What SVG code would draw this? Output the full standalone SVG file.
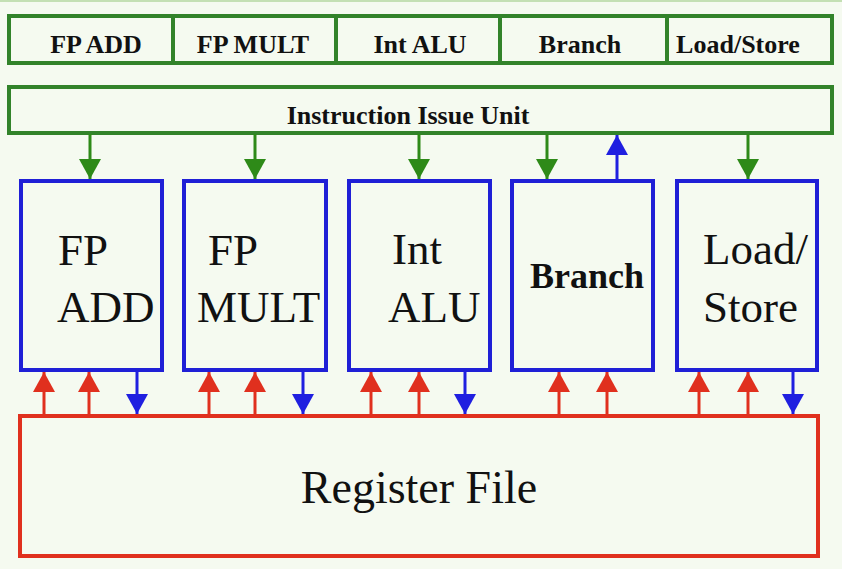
<svg xmlns="http://www.w3.org/2000/svg" width="842" height="569" viewBox="0 0 842 569">
  <style>
    .bg { fill: #f5faf0; }
    .gbox { fill: none; stroke: #32832a; stroke-width: 4; }
    .bbox { fill: none; stroke: #1f1fd6; stroke-width: 4; }
    .rbox { fill: none; stroke: #e0301e; stroke-width: 4; }
    .lbl { font-family: "Liberation Serif", "Times New Roman", serif; fill: #111; }
    .small { font-size: 26px; font-weight: bold; text-anchor: middle; }
    .big { font-size: 45px; }
    .g { stroke: #2e8a18; stroke-width: 3; fill: none; }
    .b { stroke: #1f1fe0; stroke-width: 3; fill: none; }
    .r { stroke: #e0301e; stroke-width: 3; fill: none; }
  </style>
  <defs>
    <marker id="ag" markerUnits="userSpaceOnUse" markerWidth="22" markerHeight="22" viewBox="0 0 22 22" refX="20" refY="11" orient="auto">
      <path d="M0,0 L20,11 L0,22 z" fill="#2e8a18"/>
    </marker>
    <marker id="ab" markerUnits="userSpaceOnUse" markerWidth="22" markerHeight="22" viewBox="0 0 22 22" refX="20" refY="11" orient="auto">
      <path d="M0,0 L20,11 L0,22 z" fill="#1f1fe0"/>
    </marker>
    <marker id="ar" markerUnits="userSpaceOnUse" markerWidth="22" markerHeight="22" viewBox="0 0 22 22" refX="20" refY="11" orient="auto">
      <path d="M0,0 L20,11 L0,22 z" fill="#e0301e"/>
    </marker>
  </defs>
  <rect class="bg" x="0" y="0" width="842" height="569"/>
  <line x1="0" y1="1" x2="842" y2="1" stroke="#c4e0b4" stroke-width="2"/>

  <g id="unit-table">
    <rect class="gbox" x="9" y="16" width="823" height="47"/>
    <line class="gbox" x1="173" y1="16" x2="173" y2="63"/>
    <line class="gbox" x1="336" y1="16" x2="336" y2="63"/>
    <line class="gbox" x1="500" y1="16" x2="500" y2="63"/>
    <line class="gbox" x1="667" y1="16" x2="667" y2="63"/>
    <text class="lbl small" x="96" y="53">FP ADD</text>
    <text class="lbl small" x="253" y="53">FP MULT</text>
    <text class="lbl small" x="420" y="53">Int ALU</text>
    <text class="lbl small" x="580" y="53">Branch</text>
    <text class="lbl small" x="738" y="53">Load/Store</text>
  </g>

  <g id="issue-unit">
    <rect class="gbox" x="9" y="87" width="823" height="46"/>
    <text class="lbl small" x="408" y="124" font-size="27">Instruction Issue Unit</text>
  </g>

  <g id="fp-add">
    <rect class="bbox" x="21" y="181" width="141" height="189"/>
    <text class="lbl big" x="58" y="265">FP</text>
    <text class="lbl big" x="57" y="322">ADD</text>
  </g>
  <g id="fp-mult">
    <rect class="bbox" x="184" y="181" width="142" height="189"/>
    <text class="lbl big" x="208" y="265">FP</text>
    <text class="lbl big" x="197" y="322">MULT</text>
  </g>
  <g id="int-alu">
    <rect class="bbox" x="349" y="181" width="141" height="189"/>
    <text class="lbl big" x="392" y="264">Int</text>
    <text class="lbl big" x="388" y="322">ALU</text>
  </g>
  <g id="branch">
    <rect class="bbox" x="512" y="181" width="141" height="189"/>
    <text class="lbl" x="530" y="288" font-size="36" font-weight="bold">Branch</text>
  </g>
  <g id="load-store">
    <rect class="bbox" x="677" y="181" width="140" height="189"/>
    <text class="lbl big" x="703" y="264">Load/</text>
    <text class="lbl big" x="703" y="322">Store</text>
  </g>

  <g id="register-file">
    <rect class="rbox" x="20" y="416" width="798" height="140"/>
    <text class="lbl" x="419" y="503" font-size="46" text-anchor="middle">Register File</text>
  </g>

  <g id="connectors">
    <line class="g" x1="90" y1="134" x2="90" y2="179" marker-end="url(#ag)"/>
    <line class="g" x1="255" y1="134" x2="255" y2="179" marker-end="url(#ag)"/>
    <line class="g" x1="419" y1="134" x2="419" y2="179" marker-end="url(#ag)"/>
    <line class="g" x1="547" y1="134" x2="547" y2="179" marker-end="url(#ag)"/>
    <line class="g" x1="748" y1="134" x2="748" y2="179" marker-end="url(#ag)"/>
    <line class="b" x1="617" y1="180" x2="617" y2="135" marker-end="url(#ab)"/>

    <line class="r" x1="44" y1="415" x2="44" y2="372" marker-end="url(#ar)"/>
    <line class="r" x1="89" y1="415" x2="89" y2="372" marker-end="url(#ar)"/>
    <line class="r" x1="209" y1="415" x2="209" y2="372" marker-end="url(#ar)"/>
    <line class="r" x1="255" y1="415" x2="255" y2="372" marker-end="url(#ar)"/>
    <line class="r" x1="371" y1="415" x2="371" y2="372" marker-end="url(#ar)"/>
    <line class="r" x1="419" y1="415" x2="419" y2="372" marker-end="url(#ar)"/>
    <line class="r" x1="559" y1="415" x2="559" y2="372" marker-end="url(#ar)"/>
    <line class="r" x1="607" y1="415" x2="607" y2="372" marker-end="url(#ar)"/>
    <line class="r" x1="699" y1="415" x2="699" y2="372" marker-end="url(#ar)"/>
    <line class="r" x1="748" y1="415" x2="748" y2="372" marker-end="url(#ar)"/>

    <line class="b" x1="137" y1="371" x2="137" y2="414" marker-end="url(#ab)"/>
    <line class="b" x1="303" y1="371" x2="303" y2="414" marker-end="url(#ab)"/>
    <line class="b" x1="465" y1="371" x2="465" y2="414" marker-end="url(#ab)"/>
    <line class="b" x1="793" y1="371" x2="793" y2="414" marker-end="url(#ab)"/>
  </g>
</svg>
